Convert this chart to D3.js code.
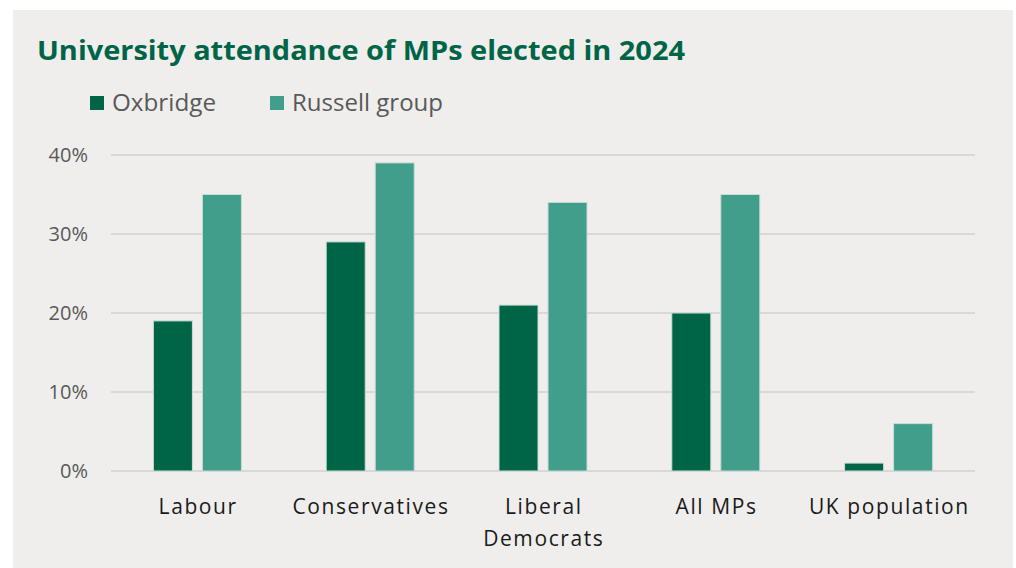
<!DOCTYPE html>
<html><head><meta charset="utf-8">
<script src="https://cdn.jsdelivr.net/npm/d3@7"></script>
<style>body{margin:0;background:#fff;}svg{display:block;}</style>
</head><body>
<svg id="c" width="1016" height="568"></svg>
<script>
const categories = [["Labour"], ["Conservatives"], ["Liberal", "Democrats"], ["All MPs"], ["UK population"]];
const seriesNames = ["Oxbridge", "Russell group"];
const oxbridge = [19, 29, 21, 20, 1];
const russell = [35, 39, 34, 35, 6];
const yTicks = [0, 10, 20, 30, 40];
const colors = ["#006446", "#419e8a"];

const svg = d3.select("#c");
svg.append("rect").attr("x", 13).attr("y", 10).attr("width", 1000).attr("height", 558).attr("fill", "#efeeec");

svg.append("text").attr("x", 37).attr("y", 60)
  .attr("font-family", "Open Sans").attr("font-weight", 700).attr("font-size", 26)
  .attr("fill", "#006446").attr("textLength", 648).attr("lengthAdjust", "spacingAndGlyphs")
  .text("University attendance of MPs elected in 2024");

const legX = [90, 270];
const legW = [104, 151];
seriesNames.forEach((n, i) => {
  svg.append("rect").attr("x", legX[i]).attr("y", 96).attr("width", 14).attr("height", 14).attr("fill", colors[i]);
  svg.append("text").attr("x", legX[i] + 22).attr("y", 111)
    .attr("font-family", "Open Sans").attr("font-size", 24).attr("fill", "#595959")
    .attr("textLength", legW[i]).attr("lengthAdjust", "spacingAndGlyphs").text(n);
});

const x = d3.scaleBand().domain(d3.range(categories.length)).range([111, 975]);
const y = d3.scaleLinear().domain([0, 40]).range([471, 155]);

const grid = svg.append("g");
grid.selectAll("line").data(yTicks).join("line")
  .attr("x1", 111).attr("x2", 975).attr("y1", d => y(d)).attr("y2", d => y(d))
  .attr("stroke", "#d9d8d6").attr("stroke-width", 2);

const yAxis = svg.append("g").attr("transform", "translate(96,0)")
  .call(d3.axisLeft(y).tickValues(yTicks).tickFormat(d => d + "%").tickSize(0).tickPadding(8));
yAxis.select(".domain").remove();
yAxis.selectAll("text").attr("font-family", "Open Sans").attr("font-size", 20).attr("fill", "#595959").attr("dy", "0.32em");

const bw = 39, gap = 10;
const data = [oxbridge, russell];
data.forEach((vals, s) => {
  svg.append("g").selectAll("rect").data(vals).join("rect")
    .attr("x", (d, i) => x(i) + x.bandwidth() / 2 - gap / 2 - bw + s * (bw + gap))
    .attr("y", d => y(d)).attr("width", bw).attr("height", d => y(0) - y(d))
    .attr("fill", colors[s]).attr("stroke", "#c9dcd5").attr("stroke-width", 1);
});

const xl = svg.append("g");
categories.forEach((lines, i) => {
  const t = xl.append("text").attr("text-anchor", "middle")
    .attr("font-family", "Open Sans").attr("font-size", 21).attr("fill", "#1a1a1a")
    .attr("letter-spacing", 1.6);
  lines.forEach((l, j) => {
    t.append("tspan").attr("x", x(i) + x.bandwidth() / 2 + 0.8).attr("y", 514 + j * 32).text(l);
  });
});
</script>
</body></html>
